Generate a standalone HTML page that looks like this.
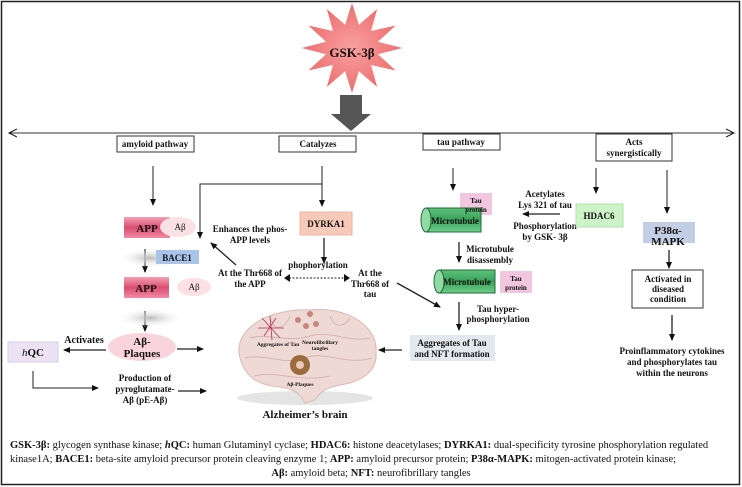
<!DOCTYPE html>
<html><head><meta charset="utf-8"><style>
body{margin:0;background:#fff;}
svg{display:block;font-family:"Liberation Serif",serif;}
.b{font-weight:bold;fill:#111;}
</style></head><body>
<svg width="742" height="487" viewBox="0 0 742 487">
<defs>
<marker id="a" markerWidth="8" markerHeight="8" refX="6" refY="4" orient="auto" markerUnits="userSpaceOnUse"><path d="M0,1 L7,4 L0,7 z" fill="#111"/></marker>
<marker id="o" markerWidth="10" markerHeight="10" refX="8" refY="5" orient="auto" markerUnits="userSpaceOnUse"><path d="M0,1 L8,5 L0,9" fill="none" stroke="#111"/></marker>
<linearGradient id="pk" x1="0" y1="0" x2="0" y2="1"><stop offset="0" stop-color="#f6a0b4"/><stop offset=".5" stop-color="#d94d70"/><stop offset="1" stop-color="#f28aa5"/></linearGradient>
<linearGradient id="gr" x1="0" y1="0" x2="0" y2="1"><stop offset="0" stop-color="#5ec27a"/><stop offset=".5" stop-color="#3aa15a"/><stop offset="1" stop-color="#6fcf8a"/></linearGradient>
<radialGradient id="st"><stop offset="0" stop-color="#f9a0a0"/><stop offset="1" stop-color="#ec6f6f"/></radialGradient>
<radialGradient id="sh"><stop offset="0" stop-color="#bbb"/><stop offset="1" stop-color="#fff" stop-opacity="0"/></radialGradient>
</defs>
<rect x="1.5" y="1.5" width="738" height="483" fill="#fff" stroke="#222" stroke-width="1.5"/>
<!-- star -->
<polygon fill="url(#st)" transform="translate(352,48) scale(1.12,1) translate(-352,-48)" points="352,3 358.2,24.8 374.5,9 369,31 391,25.5 375.2,41.8 397,48 375.2,54.2 391,70.5 369,65 374.5,87 358.2,71.2 352,93 345.8,71.2 329.5,87 335,65 313,70.5 328.8,54.2 307,48 328.8,41.8 313,25.5 335,31 329.5,9 345.8,24.8"/>
<text x="352" y="57" text-anchor="middle" class="b" font-size="13">GSK-3β</text>
<!-- grey arrow -->
<polygon points="340,95 362,95 362,114 371,114 351,131 331,114 340,114" fill="#555"/>
<!-- horizontal line -->
<line x1="9" y1="133" x2="734" y2="133" stroke="#333" marker-end="url(#o)"/>
<line x1="734" y1="133" x2="9" y2="133" stroke="#333" marker-end="url(#o)"/>
<g fill="#fff" stroke="#333">
<rect x="117" y="136" width="77" height="16"/>
<rect x="279" y="136" width="77" height="16"/>
<rect x="423" y="134" width="77" height="16"/>
<rect x="596" y="134" width="76" height="27"/>
<rect x="632" y="270" width="71" height="38"/>
</g>
<g class="b" font-size="9" text-anchor="middle">
<text x="155" y="147">amyloid pathway</text>
<text x="318" y="147">Catalyzes</text>
<text x="461" y="145">tau  pathway</text>
<text x="634" y="145">Acts</text><text x="634" y="156">synergistically</text>
<text x="668" y="282">Activated in</text><text x="668" y="292">diseased</text><text x="668" y="302">condition</text>
</g>
<!-- connectors -->
<g stroke="#222" fill="none" marker-end="url(#a)">
<line x1="153" y1="166" x2="153" y2="205"/>
<line x1="322" y1="166" x2="322" y2="206"/>
<polyline points="322,184 200,184 200,238"/>
<line x1="324" y1="238" x2="324" y2="263" stroke-width="1.3"/>
<line x1="145" y1="249" x2="145" y2="272" stroke-width="1.3"/>
<line x1="145" y1="311" x2="145" y2="331" stroke-width="1.3"/>
<line x1="106" y1="350" x2="64" y2="350" stroke-width="1.3"/>
<line x1="177" y1="349" x2="203" y2="349" stroke-width="1.3"/>
<polyline points="33,371 33,388 98,388"/>
<line x1="178" y1="391" x2="206" y2="391" stroke-width="1.3"/>
<line x1="236" y1="265" x2="211" y2="243" stroke-width="1.3"/>
<line x1="397" y1="283" x2="440" y2="307" stroke-width="1.3"/>
<line x1="402" y1="350" x2="379" y2="350" stroke-width="1.3"/>
<line x1="453" y1="168" x2="453" y2="190"/>
<line x1="459" y1="242" x2="459" y2="262" stroke-width="1.3"/>
<line x1="459" y1="302" x2="459" y2="330" stroke-width="1.3"/>
<line x1="596" y1="168" x2="596" y2="193"/>
<line x1="560" y1="214" x2="523" y2="214" stroke-width="1.3"/>
<line x1="667" y1="170" x2="667" y2="213"/>
<line x1="669" y1="250" x2="669" y2="268" stroke-width="1.3"/>
<line x1="672" y1="315" x2="672" y2="340" stroke-width="1.3"/>
</g>
<line x1="289" y1="278" x2="345" y2="278" stroke="#222" stroke-dasharray="2,1.5"/>
<polygon points="284,278 290,274 290,282" fill="#111"/><polygon points="350,278 344,274 344,282" fill="#111"/>
<!-- amyloid nodes -->
<ellipse cx="150" cy="258" rx="34" ry="10" fill="url(#sh)"/>
<ellipse cx="150" cy="318" rx="34" ry="10" fill="url(#sh)"/>
<rect x="124" y="217" width="46" height="21" fill="url(#pk)"/>
<ellipse cx="178" cy="227" rx="18" ry="10" fill="#fbe1e6"/>
<rect x="124" y="277" width="45" height="21" fill="url(#pk)"/>
<ellipse cx="194" cy="287" rx="17" ry="9" fill="#fbe1e6"/>
<rect x="156" y="250" width="43" height="14" fill="#a9c4e8"/>
<ellipse cx="142" cy="347" rx="34" ry="14" fill="#f9d4dc"/>
<rect x="8" y="342" width="50" height="20" fill="#ebe3f3" stroke="#d8cde6"/>
<rect x="300" y="212" width="52" height="23" fill="#f6c9b8" stroke="#e9b5a2"/>
<rect x="643" y="222" width="52" height="21" fill="#c3cde3"/>
<g class="b" font-size="11" text-anchor="middle">
<text x="147" y="232">APP</text><text x="146" y="292">APP</text>
<text x="142" y="345">Aβ-</text><text x="142" y="357">Plaques</text>
<text x="33" y="356"><tspan font-style="italic" font-weight="normal">h</tspan>QC</text>
<text x="668" y="234">P38α-</text><text x="668" y="245">MAPK</text>
</g>
<g class="b" font-size="9" text-anchor="middle">
<text x="180" y="230" font-weight="normal">Aβ</text><text x="194" y="290" font-weight="normal">Aβ</text>
<text x="177" y="261">BACE1</text>
<text x="326" y="227">DYRKA1</text>
<text x="84" y="343" font-size="10">Activates</text>
<text x="145" y="381">Production of</text><text x="145" y="392">pyroglutamate-</text><text x="145" y="403">Aβ (pE-Aβ)</text>
<text x="250" y="232">Enhances the phos-</text><text x="250" y="243">APP levels</text>
<text x="250" y="276">At the Thr668  of</text><text x="250" y="287">the APP</text>
<text x="318" y="268">phophorylation</text>
<text x="370" y="276">At the</text><text x="370" y="287">Thr668 of</text><text x="370" y="297">tau</text>
<text x="490" y="252">Microtubule</text><text x="490" y="263">disassembly</text>
<text x="498" y="312">Tau hyper-</text><text x="498" y="322">phosphorylation</text>
<text x="545" y="197">Acetylates</text><text x="545" y="208">Lys 321 of tau</text>
<text x="545" y="229">Phosphorylation</text><text x="545" y="240">by GSK- 3β</text>
<text x="672" y="354">Proinflammatory cytokines</text><text x="672" y="365">and phosphorylates tau</text><text x="672" y="376">within the neurons</text>
</g>
<!-- tau nodes -->
<rect x="460" y="193" width="32" height="22" fill="#f3c6e0"/>
<path d="M426,208 H481 V232 H426 Z" fill="url(#gr)" stroke="#1f6b35"/>
<ellipse cx="426" cy="220" rx="5" ry="12" fill="#8fdba3" stroke="#1f6b35"/>
<rect x="500" y="271" width="32" height="22" fill="#f3c6e0"/>
<path d="M439,270 H495 V293 H439 Z" fill="url(#gr)" stroke="#1f6b35"/>
<ellipse cx="439" cy="281.5" rx="5" ry="11.5" fill="#8fdba3" stroke="#1f6b35"/>
<rect x="410" y="335" width="85" height="26" fill="#e3e8ef"/>
<rect x="576" y="204" width="47" height="23" fill="#cdf3c8" stroke="#b5e0b0"/>
<g class="b" font-size="7" text-anchor="middle">
<text x="476" y="203">Tau</text><text x="476" y="212">protein</text>
<text x="516" y="281">Tau</text><text x="516" y="290">protein</text>
</g>
<g class="b" font-size="9" text-anchor="middle">
<text x="455" y="224">Microtubule</text><text x="467" y="285">Microtubule</text>
<text x="452" y="346">Aggregates of Tau</text><text x="452" y="357">and NFT formation</text>
<text x="599" y="219">HDAC6</text>
</g>
<!-- brain -->
<ellipse cx="305" cy="398" rx="68" ry="7" fill="#e4e4e4"/>
<path d="M240,358 C232,328 270,308 310,310 C350,306 378,328 376,352 C378,372 360,382 340,385 C325,388 320,392 315,400 L305,403 C300,394 295,389 280,387 C255,385 245,375 240,358 Z" fill="#efd9d4" stroke="#d9b9b2"/>
<g stroke="#c49a93" fill="none" stroke-width=".8" opacity=".7">
<path d="M250,338 C270,333 290,343 310,336 C330,330 350,343 370,338"/>
<path d="M245,358 C265,353 285,366 305,358 C325,350 345,366 372,358"/>
<path d="M255,376 C275,370 300,383 330,376"/>
<path d="M270,318 C275,333 285,328 290,316"/><path d="M330,316 C335,330 345,326 350,318"/>
</g>
<g stroke="#b8314f" stroke-width=".8"><path d="M262,318 L280,338 M276,318 L264,336 M258,328 L284,328 M270,316 L272,340"/></g>
<g fill="#c9857d"><circle cx="298" cy="320" r="3"/><circle cx="310" cy="314" r="3"/><circle cx="306" cy="326" r="3"/><circle cx="316" cy="324" r="3"/></g>
<circle cx="300" cy="365" r="10" fill="#9a6b3d"/><circle cx="300" cy="365" r="4" fill="#e8c8b8"/>
<g class="b" font-size="5.5" text-anchor="middle"><text x="278" y="346">Aggregates of Tau</text><text x="320" y="344">Neurofibrillary</text><text x="320" y="350">tangles</text><text x="300" y="386">Aβ-Plaques</text></g>
<text x="305" y="418" text-anchor="middle" class="b" font-size="11">Alzheimer’s brain</text>
<!-- footer -->
<g font-size="10.5" fill="#111">
<text x="10" y="448"><tspan font-weight="bold">GSK-3β:</tspan> glycogen synthase kinase; <tspan font-weight="bold"> <tspan font-style="italic">h</tspan>QC:</tspan> human Glutaminyl cyclase; <tspan font-weight="bold">HDAC6:</tspan> histone deacetylases; <tspan font-weight="bold">DYRKA1:</tspan> dual-specificity tyrosine phosphorylation regulated</text>
<text x="10" y="462">kinase1A; <tspan font-weight="bold">BACE1:</tspan> beta-site amyloid precursor protein cleaving enzyme 1; <tspan font-weight="bold">APP:</tspan> amyloid precursor protein; <tspan font-weight="bold">P38α-MAPK:</tspan> mitogen-activated protein kinase;</text>
<text x="371" y="476" text-anchor="middle"><tspan font-weight="bold">Aβ:</tspan> amyloid beta; <tspan font-weight="bold">NFT:</tspan> neurofibrillary tangles</text>
</g>
</svg>
</body></html>
